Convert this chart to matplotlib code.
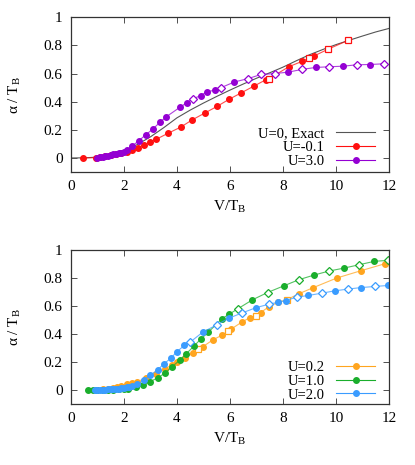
import matplotlib
matplotlib.use('Agg')
import matplotlib.pyplot as plt
from matplotlib.lines import Line2D

plt.rcParams['font.family'] = ['Liberation Serif', 'DejaVu Serif']
plt.rcParams['mathtext.fontset'] = 'custom'
plt.rcParams['mathtext.rm'] = 'Liberation Serif'
plt.rcParams['mathtext.it'] = 'Liberation Serif:italic'
plt.rcParams['font.size'] = 10.5

# ---- top panel data ----
exact_x = [0, 0.5, 1.0, 1.5, 2.0, 2.5, 3.0, 3.5, 4.0, 4.5, 5.0, 5.5, 6.0,
           6.5, 7.0, 7.5, 8.0, 8.5, 9.0, 9.5, 10.0, 10.5, 11.0, 11.5, 12.0]
exact_y = [0, 0.001, 0.006, 0.022, 0.05, 0.095, 0.15, 0.215, 0.285, 0.34, 0.39,
           0.437, 0.482, 0.525, 0.566, 0.605, 0.645, 0.69, 0.733, 0.77, 0.805,
           0.836, 0.866, 0.895, 0.92]

red_x = [0.45, 0.94, 1.1, 1.3, 1.5, 1.7, 1.9, 2.1, 2.32, 2.53, 2.77, 3.0, 3.22,
         3.67, 4.14, 4.58, 5.05, 5.52, 5.97, 6.42, 6.9, 7.35, 7.49, 8.22, 8.72,
         8.97, 9.18, 9.72, 10.47]
red_y = [0.0, 0.002, 0.008, 0.013, 0.018, 0.025, 0.033, 0.045, 0.057, 0.074,
         0.093, 0.112, 0.133, 0.176, 0.219, 0.271, 0.319, 0.367, 0.417, 0.462,
         0.51, 0.555, 0.564, 0.648, 0.686, 0.707, 0.725, 0.774, 0.836]
red_open_x = [7.49, 8.97, 9.72, 10.47]

purple_x = [1.0, 1.1, 1.2, 1.3, 1.4, 1.5, 1.6, 1.7, 1.8, 1.9, 2.0, 2.1, 2.32,
            2.57, 2.82, 3.1, 3.35, 3.6, 4.12, 4.37, 4.62, 4.89, 5.14, 5.42,
            5.67, 6.17, 6.67, 7.17, 7.72, 8.21, 8.74, 9.24, 9.75, 10.28, 10.78,
            11.28, 11.8]
purple_y = [0.0, 0.004, 0.008, 0.012, 0.016, 0.02, 0.025, 0.03, 0.034, 0.038,
            0.045, 0.056, 0.086, 0.124, 0.164, 0.207, 0.252, 0.293, 0.361, 0.392,
            0.422, 0.442, 0.472, 0.48, 0.5, 0.54, 0.563, 0.593, 0.6, 0.61, 0.63,
            0.643, 0.648, 0.652, 0.662, 0.664, 0.669]
purple_open_x = [4.62, 5.67, 6.67, 7.17, 7.72, 8.74, 9.75, 10.78, 11.8]

# ---- bottom panel data ----
orange_x = [1.0, 1.2, 1.4, 1.6, 1.72, 1.9, 2.1, 2.3, 2.48, 2.83, 3.2, 3.55,
            3.8, 4.0, 4.3, 4.62, 4.8, 4.99, 5.35, 5.69, 5.94, 6.06, 6.44, 6.75,
            6.98, 7.16, 7.48, 7.82, 8.14, 8.6, 9.15, 10.03, 10.94, 11.85]
orange_y = [0.003, 0.006, 0.011, 0.017, 0.024, 0.03, 0.04, 0.05, 0.06, 0.083,
            0.117, 0.15, 0.18, 0.2, 0.226, 0.267, 0.29, 0.31, 0.357, 0.39, 0.42,
            0.436, 0.483, 0.516, 0.53, 0.552, 0.595, 0.625, 0.643, 0.686, 0.73,
            0.798, 0.85, 0.9]
orange_open_x = [4.8, 5.94, 6.98, 8.14]

green_x = [0.65, 0.84, 1.0, 1.2, 1.4, 1.6, 1.8, 2.0, 2.16, 2.45, 2.73, 3.0,
           3.27, 3.55, 3.8, 4.1, 4.36, 4.65, 4.9, 5.18, 5.69, 5.97, 6.29, 6.85,
           7.42, 8.04, 8.6, 9.17, 9.74, 10.31, 10.88, 11.45, 11.95]
green_y = [0.0, 0.0, 0.0, 0.001, 0.002, 0.003, 0.004, 0.005, 0.007, 0.02, 0.036,
           0.06, 0.088, 0.12, 0.163, 0.212, 0.26, 0.315, 0.363, 0.411, 0.507,
           0.54, 0.578, 0.643, 0.695, 0.743, 0.786, 0.819, 0.848, 0.869, 0.893,
           0.917, 0.924]
green_open_x = [6.29, 7.42, 8.6, 9.74, 10.88, 11.95]

blue_x = [0.9, 1.0, 1.1, 1.2, 1.3, 1.4, 1.5, 1.6, 1.7, 1.8, 1.9, 2.0, 2.1, 2.2,
          2.3, 2.48, 2.75, 3.0, 3.27, 3.5, 3.77, 3.99, 4.28, 4.49, 4.97, 5.5,
          5.96, 6.44, 7.0, 7.48, 7.82, 8.1, 8.52, 8.96, 9.46, 9.96, 10.44,
          10.94, 11.47, 11.95]
blue_y = [0.0, 0.0, 0.001, 0.002, 0.003, 0.004, 0.005, 0.006, 0.008, 0.01,
          0.013, 0.016, 0.02, 0.025, 0.031, 0.04, 0.07, 0.107, 0.143, 0.186,
          0.226, 0.272, 0.318, 0.34, 0.412, 0.464, 0.512, 0.548, 0.588, 0.612,
          0.626, 0.638, 0.662, 0.674, 0.69, 0.707, 0.719, 0.73, 0.738, 0.745]
blue_open_x = [4.49, 5.5, 6.44, 7.48, 8.52, 9.46, 10.44, 11.47]

c_exact = '#555555'
c_red = '#ff1010'
c_purple = '#9400d3'
c_orange = '#ffa51f'
c_green = '#1aae2c'
c_blue = '#3a9cff'

fig = plt.figure(figsize=(4.15, 4.65), dpi=100)
ax1 = fig.add_axes([0.171, 0.630, 0.766, 0.333])
ax2 = fig.add_axes([0.171, 0.131, 0.766, 0.332])


def series(ax, x, y, color, open_x, omark):
    ax.plot(x, y, '-', color=color, lw=0.8, alpha=0.75)
    fx = [a for a in x if a not in open_x]
    fy = [b for a, b in zip(x, y) if a not in open_x]
    ox = [a for a in x if a in open_x]
    oy = [b for a, b in zip(x, y) if a in open_x]
    ax.plot(fx, fy, 'o', color=color, ms=4, mec=color)
    ax.plot(ox, oy, omark, color=color, ms=4.2, mfc='white', mew=0.9)


# top panel
ax1.plot(exact_x, exact_y, '-', color=c_exact, lw=0.8)
series(ax1, red_x, red_y, c_red, red_open_x, 's')
series(ax1, purple_x, purple_y, c_purple, purple_open_x, 'D')

h1 = [Line2D([], [], color=c_exact, lw=0.8),
      Line2D([], [], color=c_red, lw=0.8, marker='o', ms=4),
      Line2D([], [], color=c_purple, lw=0.8, marker='o', ms=4)]
ax1.legend(h1, ['U=0, Exact', 'U=-0.1', 'U=3.0'], loc='lower right',
           bbox_to_anchor=(0.99, -0.04), frameon=False, markerfirst=False,
           handlelength=2.7, labelspacing=0.05, handletextpad=0.8,
           numpoints=1, borderpad=0.2)

# bottom panel
series(ax2, orange_x, orange_y, c_orange, orange_open_x, 's')
series(ax2, green_x, green_y, c_green, green_open_x, 'D')
series(ax2, blue_x, blue_y, c_blue, blue_open_x, 'D')

h2 = [Line2D([], [], color=c_orange, lw=0.8, marker='o', ms=4),
      Line2D([], [], color=c_green, lw=0.8, marker='o', ms=4),
      Line2D([], [], color=c_blue, lw=0.8, marker='o', ms=4)]
ax2.legend(h2, ['U=0.2', 'U=1.0', 'U=2.0'], loc='lower right',
           bbox_to_anchor=(0.99, -0.05), frameon=False, markerfirst=False,
           handlelength=2.7, labelspacing=0.05, handletextpad=0.8,
           numpoints=1, borderpad=0.2)

for ax in (ax1, ax2):
    ax.set_xlim(0, 12)
    ax.set_ylim(-0.1, 1)
    ax.set_xticks([0, 2, 4, 6, 8, 10, 12])
    ax.set_yticks([0, 0.2, 0.4, 0.6, 0.8, 1])
    ax.set_yticklabels(['0', '0.2', '0.4', '0.6', '0.8', '1'])
    ax.tick_params(direction='in', top=True, right=True, length=4,
                   width=0.6, labelsize=11, pad=6, colors='#333333',
                   labelcolor='black')
    for s in ax.spines.values():
        s.set_linewidth(0.9)
        s.set_color('#333333')
    ax.set_xlabel('V/T$_\\mathrm{B}$', fontsize=11, labelpad=4)
    ax.set_ylabel('α / T$_\\mathrm{B}$', fontsize=11, labelpad=15)

fig.savefig('out.png', dpi=100)
